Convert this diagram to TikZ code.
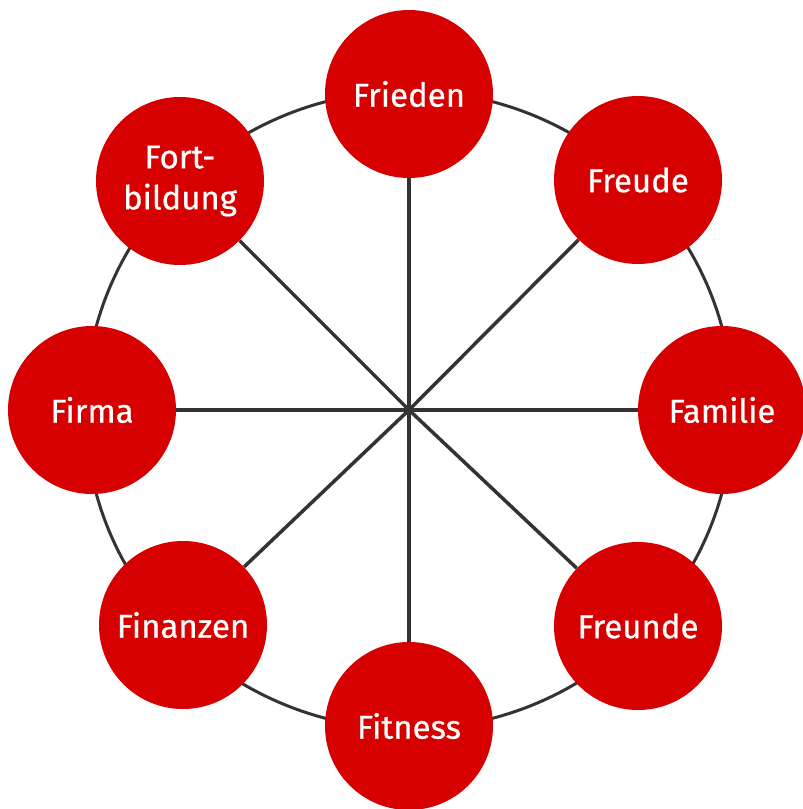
\documentclass[tikz,border=0pt]{standalone}
\usepackage{fontspec}
\setmainfont{Fira Sans}[FakeBold=0.6]
\usepackage{xcolor}
\definecolor{mred}{RGB}{214,0,0}
\definecolor{mgray}{RGB}{51,51,51}
\usepackage{tikz}

\begin{document}
\begin{tikzpicture}[x=1pt, y=-1pt,
    topic/.style={circle, fill=mred, minimum size=168pt, inner sep=0pt, text=white, align=center, font=\fontsize{33}{41}\selectfont},
    spoke/.style={draw=mgray, line width=3.5pt},
    ring/.style={draw=mgray, line width=3pt},
]
\useasboundingbox (0,0) rectangle (803,809);
\coordinate (hub) at (409,410);
\draw[ring] (hub) ellipse [x radius=324pt, y radius=319pt];

\node[topic] (frieden) at (409,94) {Frieden};
\node[topic] (freude) at (638,180) {Freude};
\node[topic] (familie) at (722,410) {Familie};
\node[topic] (freunde) at (638,626) {Freunde};
\node[topic] (fitness) at (409,726) {Fitness};
\node[topic] (finanzen) at (183,625) {Finanzen};
\node[topic] (firma) at (92,410) {Firma};
\node[topic] (fortbildung) at (180,181) {Fort-\\bildung};

\foreach \n in {frieden, freude, familie, freunde, fitness, finanzen, firma, fortbildung}
    \draw[spoke] (hub) -- (\n);

\end{tikzpicture}
\end{document}
